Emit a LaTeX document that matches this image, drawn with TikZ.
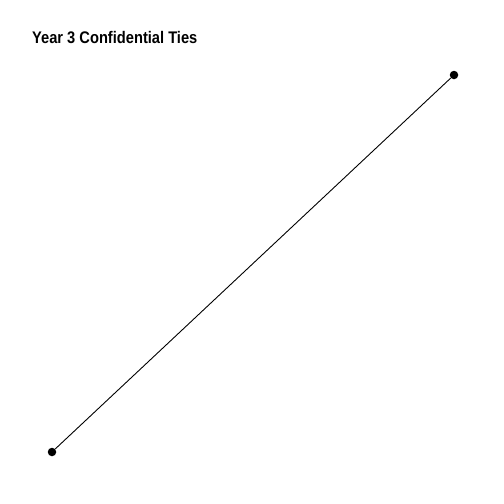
\documentclass[tikz,border=0pt]{standalone}
\usepackage{fontspec}
\setmainfont{Liberation Sans}
\begin{document}
\begin{tikzpicture}[x=1pt,y=-1pt,
  vert/.style={circle,fill=black,inner sep=0pt,minimum size=8.5pt},
  tie/.style={line width=0.9pt,black},
  titletext/.style={anchor=base west,inner sep=0pt,font=\bfseries\fontsize{16.8}{19}\selectfont,xscale=0.873,transform shape}]
\useasboundingbox (0,0) rectangle (504,504);
\node[titletext] (title) at (32,43) {Year 3 Confidential Ties};
\node[vert] (a) at (454,75) {};
\node[vert] (b) at (52,452) {};
\draw[tie] (a) -- (b);
\end{tikzpicture}
\end{document}
